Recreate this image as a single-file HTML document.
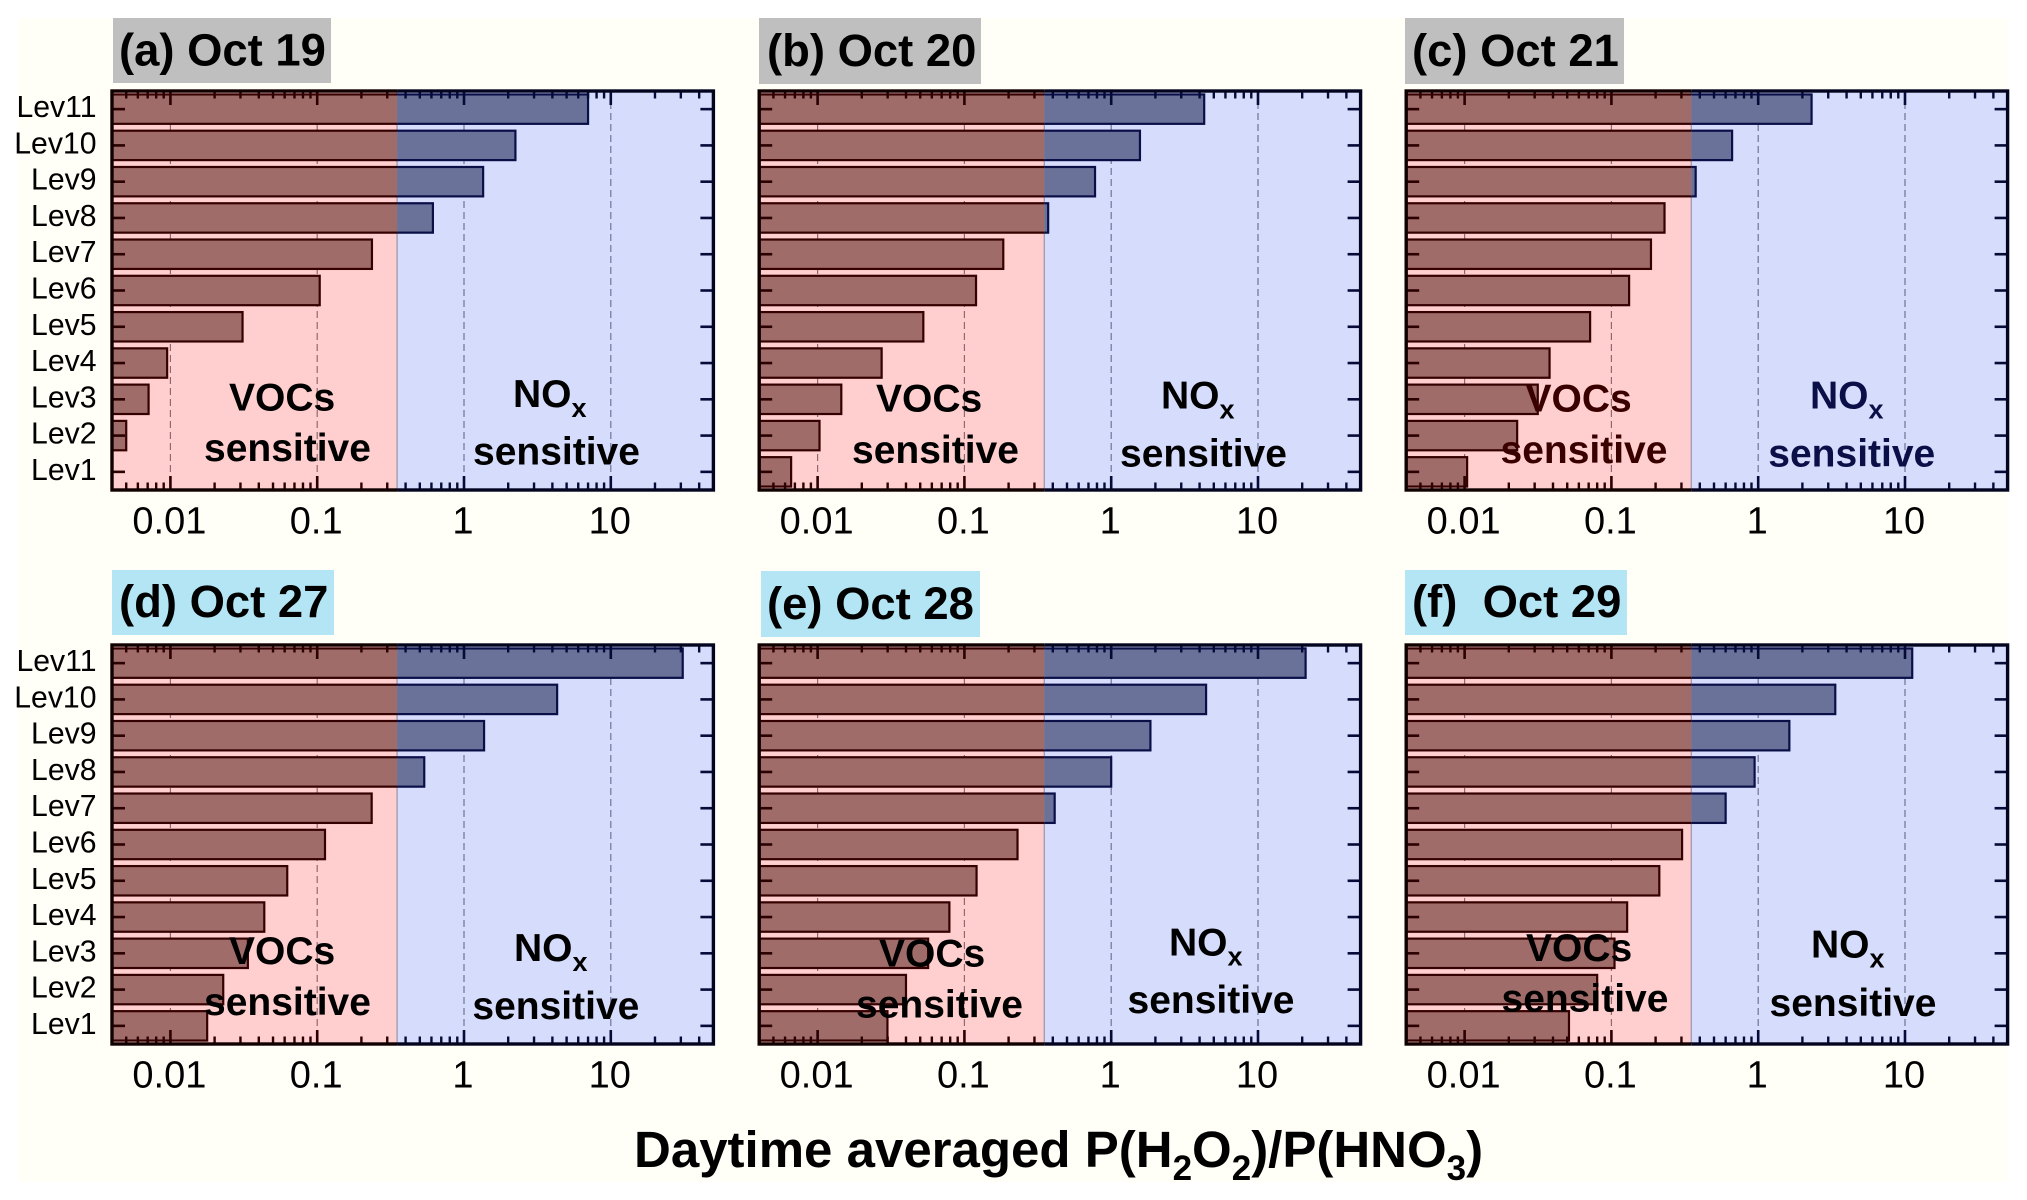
<!DOCTYPE html>
<html lang="en">
<head>
<meta charset="utf-8">
<title>Daytime averaged P(H2O2)/P(HNO3)</title>
<style>
html,body{margin:0;padding:0;background:#fff;}
svg{display:block;}
text{font-family:"Liberation Sans",Arial,sans-serif;}
.title{font-weight:bold;font-size:45.4px;fill:#000;}
.anno{font-weight:bold;font-size:39px;fill:#000;}
.sub{font-size:27px;}
</style>
</head>
<body>
<svg id="figure" xmlns="http://www.w3.org/2000/svg" width="2027" height="1200" viewBox="0 0 2027 1200">
  <rect x="18" y="18" width="1990" height="1164" fill="#FFFFF7"/>
  <g id="panels"></g>

  <g>
    <rect x="113" y="18" width="218" height="65" fill="#BFBFBF"/>
    <text class="title" x="119" y="65.5">(a) Oct 19</text>
    <rect x="759" y="18" width="222" height="66" fill="#BFBFBF"/>
    <text class="title" x="767" y="66">(b) Oct 20</text>
    <rect x="1405" y="18" width="219" height="66" fill="#BFBFBF"/>
    <text class="title" x="1412" y="66">(c) Oct 21</text>
    <rect x="112" y="570" width="222" height="65" fill="#B3E5F5"/>
    <text class="title" x="119" y="617">(d) Oct 27</text>
    <rect x="761" y="571" width="219" height="66" fill="#B3E5F5"/>
    <text class="title" x="767" y="619">(e) Oct 28</text>
    <rect x="1405" y="570" width="222" height="65" fill="#B3E5F5"/>
    <text class="title" x="1412" y="617" xml:space="preserve">(f)  Oct 29</text>
  </g>

  <g transform="translate(0,1)">
    <text class="anno" x="229" y="409.6">VOCs</text>
    <text class="anno" x="204" y="460">sensitive</text>
    <text class="anno" x="513" y="406">NO<tspan class="sub" dy="10">x</tspan></text>
    <text class="anno" x="473" y="463.5">sensitive</text>

    <text class="anno" x="876" y="410.7">VOCs</text>
    <text class="anno" x="852" y="461.8">sensitive</text>
    <text class="anno" x="1161" y="407.5">NO<tspan class="sub" dy="10">x</tspan></text>
    <text class="anno" x="1120" y="465.7">sensitive</text>

    <text class="anno" x="1525.5" y="410.7" style="fill:#3A0000">VOCs</text>
    <text class="anno" x="1500.5" y="461.8" style="fill:#3A0000">sensitive</text>
    <text class="anno" x="1810" y="407.5" style="fill:#0A0F48">NO<tspan class="sub" dy="10">x</tspan></text>
    <text class="anno" x="1768.3" y="465.7" style="fill:#0A0F48">sensitive</text>

    <text class="anno" x="229" y="963">VOCs</text>
    <text class="anno" x="204" y="1014">sensitive</text>
    <text class="anno" x="514" y="960">NO<tspan class="sub" dy="10">x</tspan></text>
    <text class="anno" x="472.4" y="1018">sensitive</text>

    <text class="anno" x="879" y="965.7">VOCs</text>
    <text class="anno" x="856" y="1016.7">sensitive</text>
    <text class="anno" x="1169" y="954.7">NO<tspan class="sub" dy="10">x</tspan></text>
    <text class="anno" x="1127.5" y="1011.8">sensitive</text>

    <text class="anno" x="1526" y="960">VOCs</text>
    <text class="anno" x="1501.5" y="1010.5">sensitive</text>
    <text class="anno" x="1811" y="956.7">NO<tspan class="sub" dy="10">x</tspan></text>
    <text class="anno" x="1769.5" y="1015">sensitive</text>
  </g>

  <text x="634" y="1167" font-size="51" font-weight="bold" fill="#000">Daytime averaged P(H<tspan font-size="35" dy="13">2</tspan><tspan dy="-13">O</tspan><tspan font-size="35" dy="13">2</tspan><tspan dy="-13">)/P(HNO</tspan><tspan font-size="35" dy="13">3</tspan><tspan dy="-13">)</tspan></text>
</svg>

<script>
const categories = ['Lev11','Lev10','Lev9','Lev8','Lev7','Lev6','Lev5','Lev4','Lev3','Lev2','Lev1'];
const valuesOct19 = [7.0, 2.24, 1.35, 0.614, 0.236, 0.104, 0.031, 0.0095, 0.0071, 0.005, 0.004];
const valuesOct20 = [4.3, 1.57, 0.776, 0.372, 0.184, 0.12, 0.0525, 0.0273, 0.0145, 0.0103, 0.0066];
const valuesOct21 = [2.31, 0.664, 0.375, 0.23, 0.186, 0.132, 0.0716, 0.0379, 0.0315, 0.0228, 0.0104];
const valuesOct27 = [30.9, 4.31, 1.37, 0.536, 0.235, 0.113, 0.0625, 0.0436, 0.0337, 0.0229, 0.0178];
const valuesOct28 = [21.1, 4.43, 1.85, 1.0, 0.412, 0.23, 0.121, 0.079, 0.0566, 0.04, 0.0299];
const valuesOct29 = [11.2, 3.35, 1.63, 0.945, 0.6, 0.303, 0.212, 0.128, 0.105, 0.08, 0.0514];
const xTickValues = [0.01, 0.1, 1, 10];
const xTickLabels = ['0.01', '0.1', '1', '10'];
const minorMultipliers = [2, 3, 4, 5, 6, 7, 8, 9];
const regimeThreshold = 0.35;
const xDomainMin = 0.004;
const xDomainMax = 50;

const SVGNS = 'http://www.w3.org/2000/svg';
const root = document.getElementById('panels');

function mk(tag, attrs, parent) {
  const el = document.createElementNS(SVGNS, tag);
  for (const k in attrs) el.setAttribute(k, attrs[k]);
  parent.appendChild(el);
  return el;
}

function drawPanel(id, values, left, top, showYLabels) {
  const width = 601.4;
  const height = 399;
  const right = left + width;
  const bottom = top + height;
  const band = height / categories.length;
  const x = v => left + (Math.log10(v) - Math.log10(xDomainMin)) / (Math.log10(xDomainMax) - Math.log10(xDomainMin)) * width;
  const y = i => top + (i + 0.5) * band;
  const split = x(regimeThreshold);
  const inkAt = px => (px < split ? '#2A0000' : '#060A38');

  const g = mk('g', {}, root);
  
  

  const defs = mk('defs', {}, g);
  const clipVoc = mk('clipPath', { id: 'clip-voc-' + id }, defs);
  mk('rect', { x: left - 4, y: top - 4, width: split - left + 4, height: height + 8 }, clipVoc);
  const clipNox = mk('clipPath', { id: 'clip-nox-' + id }, defs);
  mk('rect', { x: split, y: top - 4, width: right - split + 4, height: height + 8 }, clipNox);

  const vocRegion = mk('rect', { x: left, y: top, width: split - left, height: height, fill: '#FFCFCF' }, g);
  
  

  const noxRegion = mk('rect', { x: split, y: top, width: right - split, height: height, fill: '#D6DCFB' }, g);
  
  

  const divider = mk('line', { x1: split, x2: split, y1: top, y2: bottom, stroke: '#9C93A8', 'stroke-width': 1.2 }, g);
  
  

  xTickValues.forEach(function (v) {
    const grid = mk('line', {
      x1: x(v), x2: x(v), y1: top, y2: bottom,
      stroke: x(v) < split ? '#92686C' : '#6F7498',
      'stroke-width': 1.2, 'stroke-dasharray': '7 4'
    }, g);
    
    
  });

  values.forEach(function (v, i) {
    const barX = x(v);
    const attrsBase = { x: left, y: y(i) - 14.7, width: Math.max(0, barX - left), height: 29.4, 'stroke-width': 2.2 };

    const vocBar = mk('rect', attrsBase, g);
    vocBar.setAttribute('fill', '#A06C6A');
    vocBar.setAttribute('stroke', '#350000');
    vocBar.setAttribute('clip-path', 'url(#clip-voc-' + id + ')');
    
    

    const noxBar = mk('rect', attrsBase, g);
    noxBar.setAttribute('fill', '#6A7299');
    noxBar.setAttribute('stroke', '#0A0F48');
    noxBar.setAttribute('clip-path', 'url(#clip-nox-' + id + ')');
    
    
  });

  xTickValues.forEach(function (v, idx) {
    const px = x(v);
    const tickB = mk('line', { x1: px, x2: px, y1: bottom, y2: bottom - 14, stroke: inkAt(px), 'stroke-width': 2.6 }, g);
    
    

    const tickT = mk('line', { x1: px, x2: px, y1: top, y2: top + 14, stroke: inkAt(px), 'stroke-width': 2.6 }, g);
    
    

    const label = mk('text', { x: px - 1, y: bottom + 43.5, 'text-anchor': 'middle', 'font-size': 38, fill: '#000' }, g);
    label.textContent = xTickLabels[idx];
    
    
  });

  [0.001, 0.01, 0.1, 1, 10].forEach(function (decade) {
    minorMultipliers.forEach(function (m) {
      const val = decade * m;
      if (val <= xDomainMin || val >= xDomainMax) return;
      const px = x(val);
      const minorB = mk('line', { x1: px, x2: px, y1: bottom, y2: bottom - 7.5, stroke: inkAt(px), 'stroke-width': 2.4 }, g);
      
      

      const minorT = mk('line', { x1: px, x2: px, y1: top, y2: top + 7.5, stroke: inkAt(px), 'stroke-width': 2.4 }, g);
      
      
    });
  });

  categories.forEach(function (c, i) {
    const tickL = mk('line', { x1: left, x2: left + 13, y1: y(i), y2: y(i), stroke: '#2A0000', 'stroke-width': 2.6 }, g);
    
    

    const tickR = mk('line', { x1: right, x2: right - 13, y1: y(i), y2: y(i), stroke: '#060A38', 'stroke-width': 2.6 }, g);
    
    

    if (showYLabels) {
      const yl = mk('text', { x: left - 15.5, y: y(i) + 8, 'text-anchor': 'end', 'font-size': 30.2, fill: '#000' }, g);
      yl.textContent = c;
      
      
    }
  });

  const frameVoc = mk('rect', { x: left, y: top, width: width, height: height, fill: 'none', stroke: '#100000', 'stroke-width': 3.4, 'clip-path': 'url(#clip-voc-' + id + ')' }, g);
  
  

  const frameNox = mk('rect', { x: left, y: top, width: width, height: height, fill: 'none', stroke: '#030520', 'stroke-width': 3.4, 'clip-path': 'url(#clip-nox-' + id + ')' }, g);
  
  
}

drawPanel('a', valuesOct19, 112, 91, true);
drawPanel('b', valuesOct20, 759.2, 91, false);
drawPanel('c', valuesOct21, 1406.2, 91, false);
drawPanel('d', valuesOct27, 112, 645, true);
drawPanel('e', valuesOct28, 759.2, 645, false);
drawPanel('f', valuesOct29, 1406.2, 645, false);
</script>
</body>
</html>
